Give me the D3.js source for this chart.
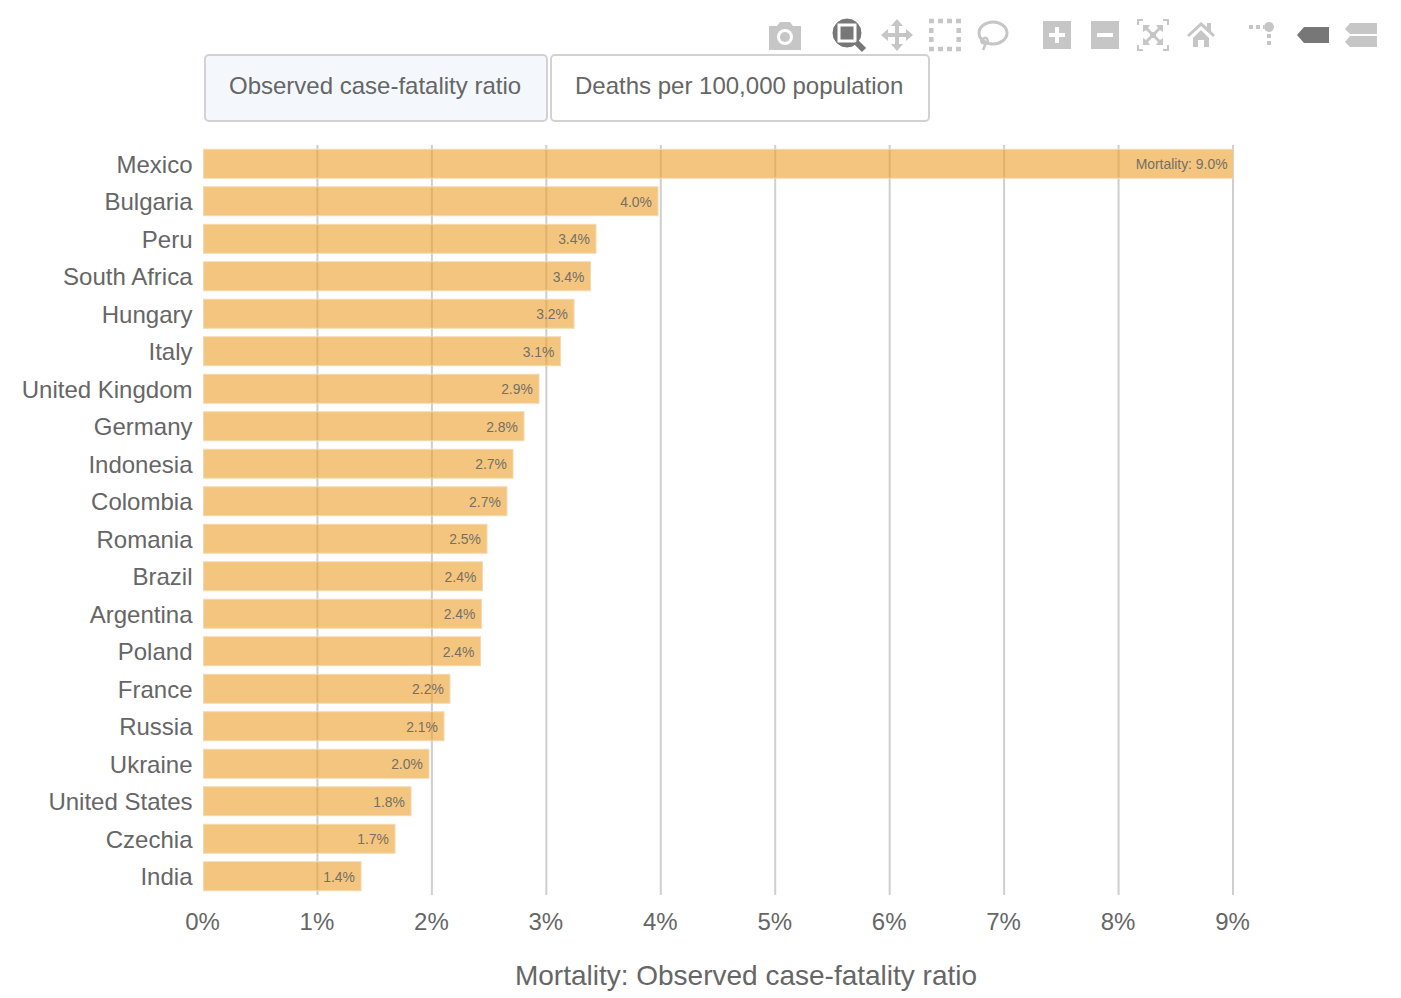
<!DOCTYPE html>
<html><head><meta charset="utf-8">
<script src="https://cdn.jsdelivr.net/npm/d3@7/dist/d3.min.js"></script>
<style>html,body{margin:0;padding:0;background:#fff}svg{display:block}text{font-family:"Liberation Sans",Arial,sans-serif}</style>
</head><body><svg id="c" width="1401" height="998"></svg>
<script>
const countries=["Mexico","Bulgaria","Peru","South Africa","Hungary","Italy","United Kingdom","Germany","Indonesia","Colombia","Romania","Brazil","Argentina","Poland","France","Russia","Ukraine","United States","Czechia","India"];
const mortality=[9.0,3.976,3.434,3.386,3.242,3.124,2.936,2.805,2.709,2.656,2.482,2.442,2.434,2.425,2.158,2.106,1.975,1.818,1.678,1.381];
const xTicks=[0,1,2,3,4,5,6,7,8,9];
const buttonLabels=["Observed case-fatality ratio","Deaths per 100,000 population"];
const axisTitle="Mortality: Observed case-fatality ratio";
const firstLabelPrefix="Mortality: ";

const svg=d3.select("#c");
const TXT="#666";
const x=d3.scaleLinear().domain([0,9]).range([203,1233]);
const y=d3.scaleBand().domain(countries).range([145,895]).paddingInner(0.2).paddingOuter(0.1);

// grid
svg.append("g").selectAll("line").data(xTicks.slice(1)).join("line")
 .attr("x1",d=>x(d)).attr("x2",d=>x(d)).attr("y1",145).attr("y2",895)
 .attr("stroke","#cfcfcf").attr("stroke-width",2);

// bars
const rows=countries.map((c,i)=>({c,v:mortality[i],i}));
svg.append("g").selectAll("rect").data(rows).join("rect")
 .attr("x",x(0)+0.5).attr("y",d=>y(d.c)+0.5).attr("width",d=>x(d.v)-x(0)-0.5).attr("height",y.bandwidth()-1)
 .attr("fill","#ed9e2a").attr("fill-opacity",0.6)
 .attr("stroke","#f3d9b0").attr("stroke-width",1);

// bar labels
svg.append("g").selectAll("text").data(rows).join("text")
 .attr("x",d=>x(d.v)-(d.i===0?5.5:6.2)).attr("y",d=>y(d.c)+y.bandwidth()/2+0.3).attr("dy","0.36em")
 .attr("text-anchor","end").attr("font-size",13.9).attr("fill","#737065")
 .text(d=>(d.i===0?firstLabelPrefix:"")+d.v.toFixed(1)+"%");

// axes
const gx=svg.append("g").attr("transform","translate(-1,895)")
 .call(d3.axisBottom(x).tickValues(xTicks).tickFormat(d=>d+"%").tickSize(0).tickPadding(17.6));
gx.select(".domain").remove();
gx.selectAll("text").attr("font-size",24).attr("fill",TXT).style("font-family",'"Liberation Sans",Arial,sans-serif');
const gy=svg.append("g").attr("transform","translate(192.5,1.2)")
 .call(d3.axisLeft(y).tickSize(0).tickPadding(0));
gy.select(".domain").remove();
gy.selectAll("text").attr("font-size",24).attr("fill",TXT).style("font-family",'"Liberation Sans",Arial,sans-serif');

svg.append("text").attr("x",746).attr("y",985).attr("text-anchor","middle").attr("font-size",28).attr("fill",TXT).text(axisTitle);

// buttons
const btnX=[205,551], btnW=[342,378];
const btn=svg.append("g").selectAll("g").data(buttonLabels).join("g");
btn.append("rect").attr("x",(d,i)=>btnX[i]).attr("y",55).attr("width",(d,i)=>btnW[i]).attr("height",66).attr("rx",4)
 .attr("fill",(d,i)=>i===0?"#f4f8fd":"#fff").attr("stroke","#d2d2d2").attr("stroke-width",2);
btn.append("text").attr("x",(d,i)=>btnX[i]+24).attr("y",94).attr("font-size",24).attr("fill",TXT).text(d=>d);

// toolbar
const G="#c6c6c6",D="#777";
const tb=svg.append("g");
function at(cx,cy){return tb.append("g").attr("transform",`translate(${cx},${cy})`);}
// camera
let g=at(785,36);
g.append("path").attr("d","M-16,-10H-8L-5,-14H5L8,-10H16V14H-16Z").attr("fill",G);
g.append("circle").attr("r",8).attr("cy",1).attr("fill","#fff");
g.append("circle").attr("r",5).attr("cy",1).attr("fill",G);
// zoom (active)
g=at(849,35);
g.append("circle").attr("cx",-2).attr("cy",-2).attr("r",14).attr("fill",D).attr("stroke",D);
g.append("rect").attr("x",-10).attr("y",-10).attr("width",16).attr("height",16).attr("fill",D).attr("stroke","#fff").attr("stroke-width",3);
g.append("line").attr("x1",7).attr("y1",7).attr("x2",15).attr("y2",15).attr("stroke",D).attr("stroke-width",6);
// pan
g=at(897,35);
g.append("path").attr("d","M0,-16L6,-9H2V-2H9V-6L16,0L9,6V2H2V9H6L0,16L-6,9H-2V2H-9V6L-16,0L-9,-6V-2H-2V-9H-6Z").attr("fill",G);
// box select: separate square dots along each edge
g=at(945,35);
g.append("path").attr("d","M-16,-14H16M-16,14H16M-13.7,-7V7M13.7,-7V7").attr("fill","none").attr("stroke",G).attr("stroke-width",4.5).attr("stroke-dasharray","5 4");
// lasso
g=at(993,33);
g.append("ellipse").attr("rx",14).attr("ry",11).attr("fill","none").attr("stroke",G).attr("stroke-width",3);
g.append("path").attr("d","M-8,5C-14,6-12,12-7,10C-4,9-5,4-9,5M-7,10L-10,17").attr("fill","none").attr("stroke",G).attr("stroke-width",2.5);
// zoom in
g=at(1057,35);
g.append("rect").attr("x",-14).attr("y",-14).attr("width",28).attr("height",28).attr("fill",G);
g.append("path").attr("d","M-8,0H8M0,-8V8").attr("stroke","#fff").attr("stroke-width",4);
// zoom out
g=at(1105,35);
g.append("rect").attr("x",-14).attr("y",-14).attr("width",28).attr("height",28).attr("fill",G);
g.append("path").attr("d","M-8,0H8").attr("stroke","#fff").attr("stroke-width",4);
// autoscale
g=at(1153,35);
g.append("path").attr("d","M-10,-15H-15V-10M10,-15H15V-10M-10,15H-15V10M10,15H15V10").attr("fill","none").attr("stroke",G).attr("stroke-width",2);
g.append("path").attr("d","M-10,-10H-3L-5,-7L-1,-3H1L5,-7L3,-10H10V-3L7,-5L3,-1V1L7,5L10,3V10H3L5,7L1,3H-1L-5,7L-3,10H-10V3L-7,5L-3,1V-1L-7,-5L-10,-3Z").attr("fill",G);
// home
g=at(1201,35);
g.append("path").attr("d","M0,-13L6,-8V-12H10V-4L14,0L12,2L0,-9L-12,2L-14,0Z M-8,3L0,-5L8,3V12H3V5H-3V12H-8Z").attr("fill",G);
// spikes
g=at(1261,34);
g.append("circle").attr("cx",8).attr("cy",-7).attr("r",5).attr("fill",G);
g.append("path").attr("d","M-12,-7H3").attr("stroke",G).attr("stroke-width",4).attr("stroke-dasharray","4 3");
g.append("path").attr("d","M8,0V13").attr("stroke",G).attr("stroke-width",4).attr("stroke-dasharray","4 3");
// closest hover (active)
g=at(1313,35);
g.append("path").attr("d","M-16,0L-9,-8H16V8H-9Z").attr("fill",D);
// compare hover
g=at(1361,35);
g.append("path").attr("d","M-16,-6L-11,-12H16V-1H-11Z M-16,7L-11,1H16V12H-11Z").attr("fill",G);
</script></body></html>
